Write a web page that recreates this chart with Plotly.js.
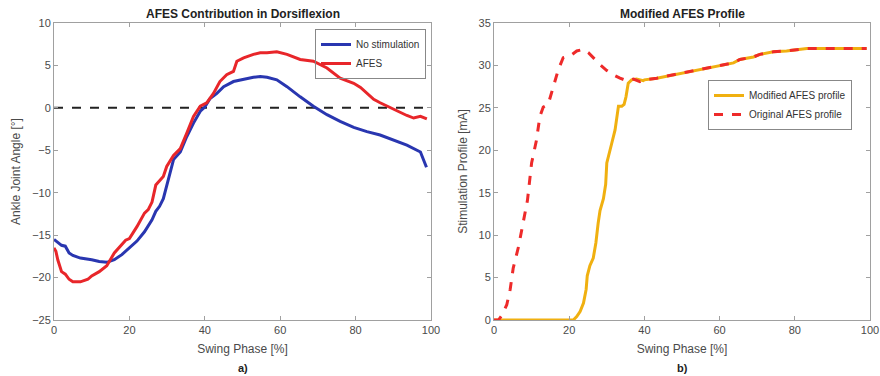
<!DOCTYPE html>
<html><head><meta charset="utf-8">
<script src="https://cdn.plot.ly/plotly-3.0.1.min.js"></script>
<style>body{margin:0;background:#fff}#c{width:880px;height:376px}</style>
</head><body><div id="c"></div>
<script>
// Left chart: ankle joint angle
const noStimX = [0,1,2,3,4,5,7,10,12,14,16,18,20,22,24,26,27,28,29,30,31.7,33.5,35.2,37,38.8,40,41.4,43.2,45,47.6,50.3,52.9,54.7,56.5,59.1,61.8,65.3,68.8,72.4,75.9,79.5,83,86.5,90.1,93.6,97.2,98,98.8];
const noStimY = [-15.5,-15.8,-16.2,-16.3,-17.1,-17.4,-17.7,-17.9,-18.1,-18.2,-17.9,-17.3,-16.5,-15.7,-14.6,-13.2,-12.2,-11.6,-10.7,-9.0,-6.1,-5.2,-3.4,-1.8,-0.4,0.1,1.1,1.7,2.5,3.1,3.4,3.6,3.7,3.6,3.3,2.5,1.3,0.2,-0.8,-1.6,-2.3,-2.8,-3.2,-3.8,-4.4,-5.2,-6.1,-7.0];
const afesX = [0,0.5,1,2,3,4,5,7,9,10,12,14,16,18,19,20,22,24,25,26,27,29,29.9,31.7,33.5,35.2,37,38.8,40.5,42.3,44,45.8,47.6,48.5,50.3,52.9,54.7,56.5,59.1,61.8,65.3,68.8,72.4,75.9,79.5,81.3,83,84.8,86.5,88.3,90.1,91.9,93.6,95.4,97.2,98.9];
const afesY = [-16.5,-16.9,-17.9,-19.3,-19.6,-20.2,-20.5,-20.5,-20.2,-19.8,-19.3,-18.6,-17.1,-16.1,-15.6,-15.4,-14.0,-12.4,-12.0,-11.1,-9.1,-8.1,-6.9,-5.6,-4.8,-3.0,-1.0,0.2,0.6,1.7,3.1,3.9,4.3,5.5,5.9,6.3,6.5,6.5,6.6,6.3,5.7,5.5,4.7,3.5,2.9,2.4,1.7,1.0,0.6,0.2,-0.2,-0.6,-0.9,-1.2,-1.0,-1.3];
// Right chart: stimulation profile
const commonX = [40,43.3,47.7,52.1,56.6,61,63.7,65.4,69,70.7,74.3,77.8,81.4,83.2,92,99.1];
const commonY = [28.3,28.5,28.9,29.3,29.7,30.1,30.3,30.7,31.0,31.3,31.6,31.7,31.9,32.0,32.0,32.0];
const modX = [0,21.1,22.0,22.9,23.8,24.5,24.8,25.5,26.4,27.1,27.7,28.2,29.1,29.7,30.0,30.4,31.3,32.2,33.1,34.0,34.6,35.1,35.7,36.6,37.9,39.7].concat(commonX);
const modY = [0,0,0.4,1.0,2.0,3.6,5.2,6.4,7.3,9.1,11.4,12.9,14.3,16.0,18.5,19.3,20.8,22.4,25.2,25.2,25.4,26.3,27.9,28.3,28.4,28.2].concat(commonY);
const origX = [0,1.2,2.0,3.4,4.3,5.1,6.5,7.4,8.5,8.9,10.0,11.3,12.2,13.1,14.4,15.8,17.1,18.4,20.2,22.0,23.8,25.1,26.4,28.2,30.0,31.7,33.5,35.3,37.1,38.8].concat(commonX);
const origY = [0,0,0.5,1.8,3.6,6.1,8.6,10.6,13.3,14.1,18.5,21.2,24.0,25.1,25.4,27.5,29.5,30.9,31.1,31.7,31.9,31.5,30.9,30.1,29.4,28.9,28.5,28.2,28.4,28.1].concat(commonY);
const xTicks = [0,20,40,60,80,100];

const F = 'Liberation Sans, Arial, sans-serif';
const gray = '#a0a0a0';
const tickc = '#4a4a4a';
const PT = 23, PB = 320, PH = PB - PT;
function py(p){ return (PB - p) / PH; }
function ax(extra){
  return Object.assign({
    showline:true, mirror:'ticks', linecolor:gray, linewidth:1,
    ticks:'inside', ticklen:4, tickcolor:gray, zeroline:false, showgrid:false,
    tickfont:{family:F,size:11,color:tickc}
  }, extra);
}
const data = [
  {x:[0,100], y:[0,0], mode:'lines', line:{color:'#222',width:2,dash:'dash'}, showlegend:false, xaxis:'x', yaxis:'y', hoverinfo:'skip'},
  {x:noStimX, y:noStimY, mode:'lines', name:'No stimulation', line:{color:'#2936b0',width:3}, xaxis:'x', yaxis:'y', legend:'legend'},
  {x:afesX, y:afesY, mode:'lines', name:'AFES', line:{color:'#e8262a',width:3}, xaxis:'x', yaxis:'y', legend:'legend'},
  {x:modX, y:modY, mode:'lines', name:'Modified AFES profile', line:{color:'#f0b010',width:3}, xaxis:'x2', yaxis:'y2', legend:'legend2'},
  {x:origX, y:origY, mode:'lines', name:'Original AFES profile', line:{color:'#ee2a2a',width:3,dash:'dash'}, xaxis:'x2', yaxis:'y2', legend:'legend2'}
];
function ann(text, x, y, size){
  return {text:text, xref:'paper', yref:'paper', x:x, y:y, xanchor:'center', yanchor:'middle', showarrow:false, font:{family:F,size:size,color:'#222'}};
}
const layout = {
  width:880, height:376, margin:{l:0,r:0,t:PT,b:376-PB},
  paper_bgcolor:'#fff', plot_bgcolor:'#fff',
  font:{family:F,color:tickc},
  xaxis: ax({domain:[54/880,431/880], range:[0,100], tickvals:xTicks, anchor:'y',
    title:{text:'Swing Phase [%]', font:{family:F,size:12,color:tickc}, standoff:9}}),
  yaxis: ax({range:[-25,10], dtick:5, anchor:'x',
    title:{text:'Ankle Joint Angle [°]', font:{family:F,size:12,color:tickc}, standoff:8}}),
  xaxis2: ax({domain:[494/880,870/880], range:[0,100], tickvals:xTicks, anchor:'y2',
    title:{text:'Swing Phase [%]', font:{family:F,size:12,color:tickc}, standoff:9}}),
  yaxis2: ax({range:[0,35], dtick:5, anchor:'x2',
    title:{text:'Stimulation Profile [mA]', font:{family:F,size:12,color:tickc}, standoff:8}}),
  legend:{x:426/880, xanchor:'right', y:py(29), yanchor:'top', bgcolor:'rgba(255,255,255,0)', bordercolor:'#888', borderwidth:1,
    font:{family:F,size:10,color:'#333'}, tracegroupgap:0, itemwidth:30},
  legend2:{x:708/880, xanchor:'left', y:py(80), yanchor:'top', bgcolor:'#fff', bordercolor:'#888', borderwidth:1,
    font:{family:F,size:10,color:'#333'}, tracegroupgap:0, itemwidth:30},
  annotations:[
    ann('<b>AFES Contribution in Dorsiflexion</b>', 242.5/880, py(14), 12),
    ann('<b>Modified AFES Profile</b>', 682/880, py(14), 12),
    ann('<b>a)</b>', 242.5/880, py(368), 11),
    ann('<b>b)</b>', 682/880, py(368), 11)
  ]
};
Plotly.newPlot('c', data, layout, {staticPlot:true});
</script></body></html>
